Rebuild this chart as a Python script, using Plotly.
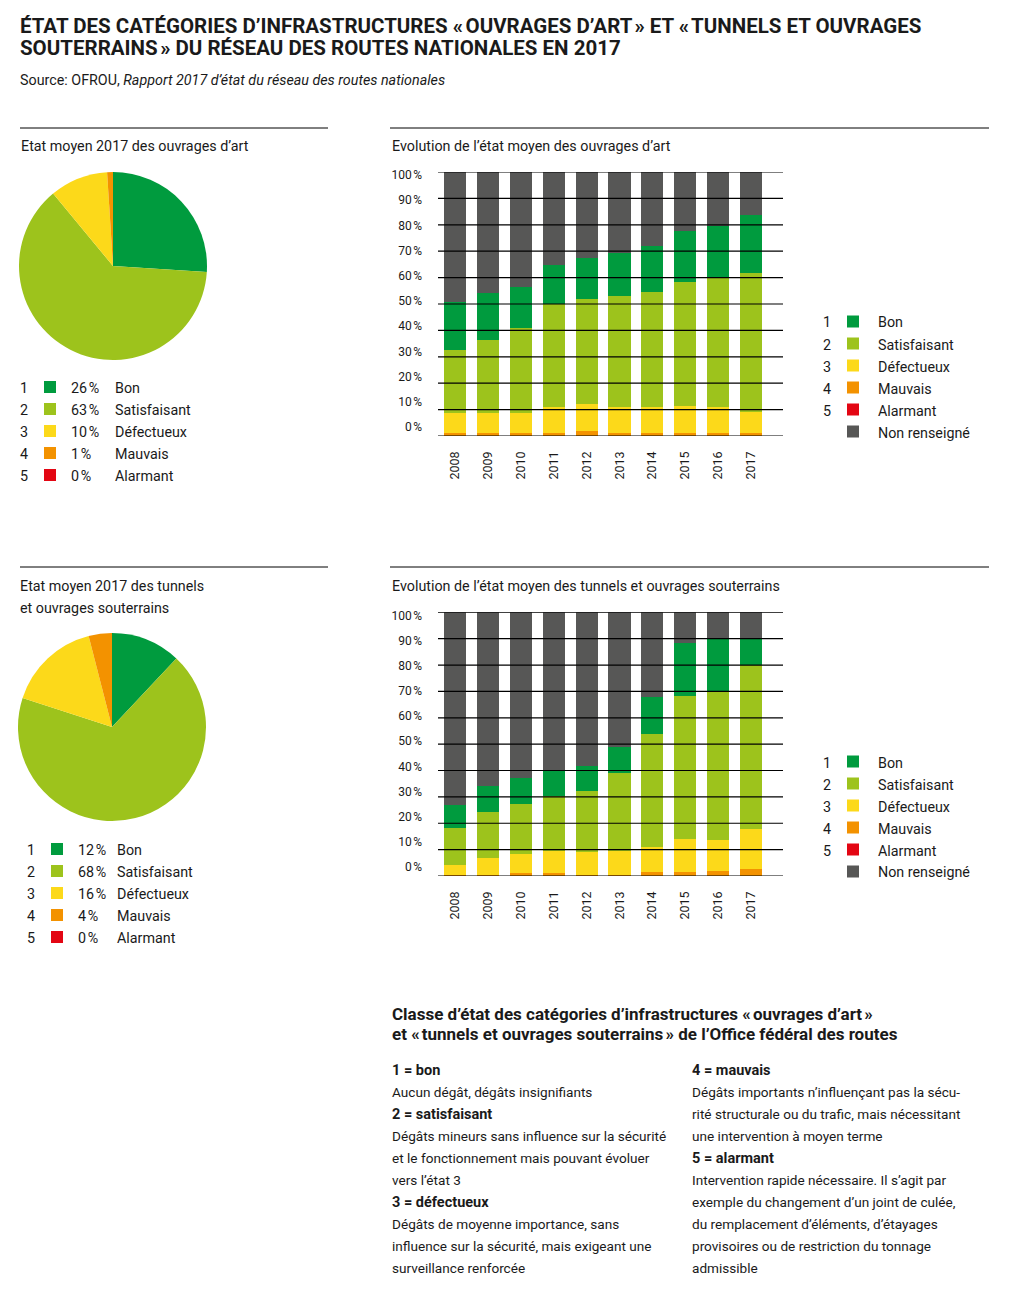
import plotly.graph_objects as go

# page body has an 8px margin: the figure is sized to fit exactly inside the window
W, H = 999, 1290
OFF = 8
def X(px): return (px - OFF) / W
def Y(py): return 1 - (py - OFF) / H

# ---------------- data ----------------
years = ["2008", "2009", "2010", "2011", "2012", "2013", "2014", "2015", "2016", "2017"]
classes = ["Bon", "Satisfaisant", "Défectueux", "Mauvais", "Alarmant", "Non renseigné"]
colors = ["#009B3E", "#9DC31C", "#FCD91A", "#F39200", "#E30613", "#575756"]

# Ouvrages d'art (%), per year
art_mauvais = [1.3, 1.3, 1.3, 1.3, 2.0, 1.3, 1.3, 1.3, 1.3, 1.3]
art_defect = [7.5, 7.5, 7.5, 9.8, 10.1, 9.8, 9.8, 10.2, 9.8, 7.9]
art_satisf = [23.8, 27.6, 32.2, 38.8, 39.9, 42.0, 43.5, 46.9, 49.2, 52.6]
art_bon = [18.2, 17.6, 15.5, 14.7, 15.6, 16.3, 17.5, 19.3, 19.3, 22.0]
art_nr = [49.2, 46.0, 43.5, 35.4, 32.9, 30.6, 27.9, 22.3, 20.4, 16.2]
art_alarm = [0, 0, 0, 0, 0, 0, 0, 0, 0, 0]

# Tunnels et ouvrages souterrains (%), per year
tun_mauvais = [0.5, 0.5, 1.3, 1.3, 0.3, 0.5, 1.6, 1.6, 2.0, 2.8]
tun_defect = [3.7, 6.5, 7.2, 8.3, 8.9, 9.1, 9.5, 12.6, 11.8, 15.2]
tun_satisf = [14.1, 17.3, 18.9, 20.7, 23.0, 29.6, 42.8, 54.1, 56.5, 61.9]
tun_bon = [8.8, 10.0, 9.9, 9.9, 9.6, 9.9, 14.1, 20.2, 19.8, 9.9]
tun_nr = [72.9, 65.7, 62.7, 59.8, 58.2, 50.9, 32.0, 11.5, 9.9, 10.2]
tun_alarm = [0, 0, 0, 0, 0, 0, 0, 0, 0, 0]

# 2017 pies (%)
pie_labels = ["Bon", "Satisfaisant", "Défectueux", "Mauvais", "Alarmant"]
pie_art = [26, 63, 10, 1, 0]
pie_tun = [12, 68, 16, 4, 0]

y_ticks = [0, 10, 20, 30, 40, 50, 60, 70, 80, 90, 100]

FONT = "Roboto"
TXT = "#1a1a1a"

fig = go.Figure()

# ---------------- bar charts ----------------
def add_bars(xa, ya, series):
    for name, vals, col in series:
        fig.add_trace(go.Bar(x=years, y=vals, name=name, marker=dict(color=col, line=dict(width=0)),
                             xaxis=xa, yaxis=ya, showlegend=False, hoverinfo="x+y+name"))

add_bars("x", "y", [("Mauvais", art_mauvais, colors[3]), ("Alarmant", art_alarm, colors[4]),
                    ("Défectueux", art_defect, colors[2]), ("Satisfaisant", art_satisf, colors[1]),
                    ("Bon", art_bon, colors[0]), ("Non renseigné", art_nr, colors[5])])
add_bars("x2", "y2", [("Mauvais", tun_mauvais, colors[3]), ("Alarmant", tun_alarm, colors[4]),
                      ("Défectueux", tun_defect, colors[2]), ("Satisfaisant", tun_satisf, colors[1]),
                      ("Bon", tun_bon, colors[0]), ("Non renseigné", tun_nr, colors[5])])

# empty traces so that the tick-label axes are drawn
fig.add_trace(go.Scatter(x=[], y=[], xaxis="x", yaxis="y3", showlegend=False, hoverinfo="skip"))
fig.add_trace(go.Scatter(x=[], y=[], xaxis="x2", yaxis="y4", showlegend=False, hoverinfo="skip"))

# ---------------- pies ----------------
fig.add_trace(go.Pie(values=pie_art, labels=pie_labels, sort=False, direction="clockwise", rotation=0,
                     marker=dict(colors=colors[:5], line=dict(width=0)), textinfo="none",
                     domain=dict(x=[X(19), X(207)], y=[Y(360), Y(172)]), showlegend=False))
fig.add_trace(go.Pie(values=pie_tun, labels=pie_labels, sort=False, direction="clockwise", rotation=0,
                     marker=dict(colors=colors[:5], line=dict(width=0)), textinfo="none",
                     domain=dict(x=[X(18), X(206)], y=[Y(821), Y(633)]), showlegend=False))

xdom = [X(438), X(783)]
xrange = [-0.517, 9.97]
tickfont = dict(family=FONT, size=12, color=TXT)
# tick labels in the original are spaced slightly tighter than the gridlines
lab_range = [-3.57, 101.19]

def xaxis_cfg(anchor):
    return dict(domain=xdom, range=xrange, type="category", anchor=anchor, tickangle=-90,
                tickfont=dict(family=FONT, size=12.5, color=TXT), showgrid=False, zeroline=False,
                showline=False, ticks="", ticklabelstandoff=12, fixedrange=True, automargin=False)

def yaxis_cfg(dom, anchor):
    return dict(domain=dom, range=[0, 100], anchor=anchor, showgrid=False, zeroline=False,
                showticklabels=False, ticks="", fixedrange=True, automargin=False)

def ylab_cfg(over, anchor):
    return dict(overlaying=over, anchor=anchor, range=lab_range, tickvals=y_ticks,
                ticktext=[f"{v}\u202f%" for v in y_ticks], tickfont=tickfont, showgrid=False,
                zeroline=False, showline=False, ticks="", ticklabelstandoff=15, fixedrange=True,
                automargin=False)

fig.update_layout(
    width=W, height=H, margin=dict(l=0, r=0, t=0, b=0, autoexpand=False),
    paper_bgcolor="white", plot_bgcolor="rgba(0,0,0,0)",
    barmode="stack", bargap=0.33, showlegend=False,
    font=dict(family=FONT, color=TXT),
    xaxis=xaxis_cfg("y"),
    yaxis=yaxis_cfg([Y(436), Y(172)], "x"),
    yaxis3=ylab_cfg("y", "x"),
    xaxis2=xaxis_cfg("y2"),
    yaxis2=yaxis_cfg([Y(876), Y(612.3)], "x2"),
    yaxis4=ylab_cfg("y2", "x2"),
)

shapes = []
# gridlines drawn above bars
for ya, xa in (("y", "x"), ("y2", "x2")):
    for v in y_ticks:
        shapes.append(dict(type="line", xref=f"{xa} domain", yref=ya, x0=0, x1=1, y0=v, y1=v,
                           line=dict(color="black", width=1.2), layer="above"))

# section rules
for yy in (128, 567):
    shapes.append(dict(type="line", xref="paper", yref="paper", x0=X(20), x1=X(328), y0=Y(yy), y1=Y(yy),
                       line=dict(color="black", width=1)))
    shapes.append(dict(type="line", xref="paper", yref="paper", x0=X(390), x1=X(989), y0=Y(yy), y1=Y(yy),
                       line=dict(color="black", width=1)))

annotations = []
def txt(x, y, s, size=14.3, bold=False, xanchor="left", yanchor="middle", color=TXT):
    t = f"<b>{s}</b>" if bold else s
    annotations.append(dict(x=X(x), y=Y(y), xref="paper", yref="paper", text=t, showarrow=False,
                            xanchor=xanchor, yanchor=yanchor, align="left",
                            xshift=-1, yshift=-1, font=dict(family=FONT, size=size, color=color)))

def square(x, y, col, s=12):
    shapes.append(dict(type="rect", xref="paper", yref="paper", x0=X(x), x1=X(x + s),
                       y0=Y(y + s / 2), y1=Y(y - s / 2), fillcolor=col, line=dict(width=0)))

# bar chart legends
for base in (321.5, 761.5):
    for i, name in enumerate(classes):
        yy = base + 22 * i
        if i < 5:
            txt(822, yy, str(i + 1))
        square(847, yy, colors[i])
        txt(877, yy, name)

# pie legends
for (base, xn, xs, xp, xl, vals) in ((387, 19, 44, 70, 114, pie_art), (849, 26, 51, 77, 116, pie_tun)):
    for i, name in enumerate(pie_labels):
        yy = base + 22 * i
        txt(xn, yy, str(i + 1))
        square(xs, yy, colors[i])
        txt(xp, yy, f"{vals[i]}\u202f%")
        txt(xl, yy, name)

# titles
txt(19, 25, "ÉTAT DES CATÉGORIES D’INFRASTRUCTURES «\u202fOUVRAGES D’ART\u202f» ET «\u202fTUNNELS ET OUVRAGES", size=20.5, bold=True)
txt(19, 47, "SOUTERRAINS\u202f» DU RÉSEAU DES ROUTES NATIONALES EN 2017", size=20.5, bold=True)
txt(19, 79, "Source: OFROU, <i>Rapport 2017 d’état du réseau des routes nationales</i>", size=14.3)

txt(20, 145, "Etat moyen 2017 des ouvrages d’art")
txt(391, 145, "Evolution de l’état moyen des ouvrages d’art")
txt(19, 585, "Etat moyen 2017 des tunnels")
txt(19, 607, "et ouvrages souterrains")
txt(391, 585, "Evolution de l’état moyen des tunnels et ouvrages souterrains")

# definitions block
txt(391, 1013, "Classe d’état des catégories d’infrastructures «\u202fouvrages d’art\u202f»", size=17, bold=True)
txt(391, 1033, "et «\u202ftunnels et ouvrages souterrains\u202f» de l’Office fédéral des routes", size=17, bold=True)

left_col = [("1 = bon", True), ("Aucun dégât, dégâts insignifiants", False), ("2 = satisfaisant", True),
            ("Dégâts mineurs sans influence sur la sécurité", False),
            ("et le fonctionnement mais pouvant évoluer", False), ("vers l’état 3", False),
            ("3 = défectueux", True), ("Dégâts de moyenne importance, sans", False),
            ("influence sur la sécurité, mais exigeant une", False), ("surveillance renforcée", False)]
right_col = [("4 = mauvais", True), ("Dégâts importants n’influençant pas la sécu-", False),
             ("rité structurale ou du trafic, mais nécessitant", False), ("une intervention à moyen terme", False),
             ("5 = alarmant", True), ("Intervention rapide nécessaire. Il s’agit par", False),
             ("exemple du changement d’un joint de culée,", False), ("du remplacement d’éléments, d’étayages", False),
             ("provisoires ou de restriction du tonnage", False), ("admissible", False)]
for i, (s, b) in enumerate(left_col):
    txt(391, 1069 + 22 * i, s, size=14.5 if b else 13.6, bold=b)
for i, (s, b) in enumerate(right_col):
    txt(691, 1069 + 22 * i, s, size=14.5 if b else 13.6, bold=b)

fig.update_layout(shapes=shapes, annotations=annotations)
fig.write_html("out.html")
